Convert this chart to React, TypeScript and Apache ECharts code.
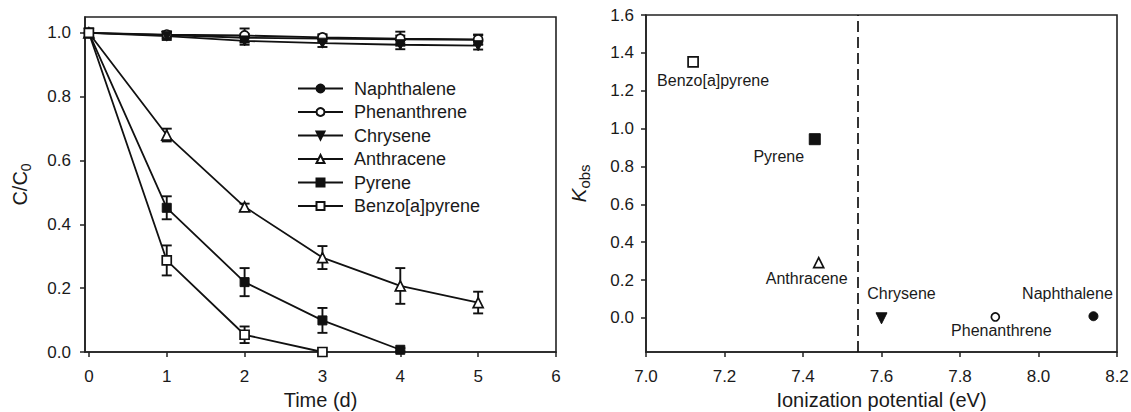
import React, { useEffect, useRef } from "react";
import * as echarts from "echarts";

// ---------- Left panel data ----------
const timeDays = [0, 1, 2, 3, 4, 5];
const naphthalene = [1.0, 0.993, 0.985, 0.982, 0.98, 0.978];
const naphthaleneErr = [0, 0.01, 0.012, 0.01, 0.012, 0.015];
const phenanthrene = [1.0, 0.995, 0.992, 0.986, 0.982, 0.98];
const phenanthreneErr = [0, 0.01, 0.022, 0.01, 0.022, 0.015];
const chrysene = [1.0, 0.99, 0.975, 0.968, 0.963, 0.96];
const chryseneErr = [0, 0.012, 0.012, 0.012, 0.014, 0.012];
const anthracene = [1.0, 0.68, 0.455, 0.296, 0.207, 0.155];
const anthraceneErr = [0, 0.02, 0.01, 0.036, 0.056, 0.034];
const pyrene = [1.0, 0.452, 0.219, 0.099, 0.007];
const pyreneErr = [0, 0.036, 0.044, 0.039, 0.005];
const benzoPyrene = [1.0, 0.287, 0.054, 0.0];
const benzoPyreneErr = [0, 0.047, 0.026, 0];

const leftXTicks = [0, 1, 2, 3, 4, 5, 6];
const leftYTicks = [0, 0.2, 0.4, 0.6, 0.8, 1.0];

// ---------- Right panel data ----------
const compounds = ["Benzo[a]pyrene", "Pyrene", "Anthracene", "Chrysene", "Phenanthrene", "Naphthalene"];
const ionizationPotential = [7.12, 7.43, 7.44, 7.6, 7.89, 8.14];
const kObs = [1.352, 0.944, 0.292, -0.002, 0.005, 0.009];
const dividerIP = 7.54;
const rightXTicks = [7.0, 7.2, 7.4, 7.6, 7.8, 8.0, 8.2];
const rightYTicks = [0, 0.2, 0.4, 0.6, 0.8, 1.0, 1.2, 1.4, 1.6];

// ---------- styles ----------
const FONT = "'Liberation Sans', Arial, Helvetica, sans-serif";
const TXT = "#1a1a1a";
const INV_TRI = "path://M0,0 L10,0 L5,8.66 Z";

type Marker = { symbol: string; size: number; filled: boolean };
const markers: Record<string, Marker> = {
  Naphthalene: { symbol: "circle", size: 9, filled: true },
  Phenanthrene: { symbol: "circle", size: 9, filled: false },
  Chrysene: { symbol: INV_TRI, size: 10, filled: true },
  Anthracene: { symbol: "triangle", size: 10, filled: false },
  Pyrene: { symbol: "rect", size: 9, filled: true },
  "Benzo[a]pyrene": { symbol: "rect", size: 9, filled: false },
};
const rightSizes: Record<string, number> = {
  Naphthalene: 9,
  Phenanthrene: 8,
  Chrysene: 11,
  Anthracene: 10,
  Pyrene: 11,
  "Benzo[a]pyrene": 10,
};
const labelOffsets: Record<string, [number, number]> = {
  "Benzo[a]pyrene": [20, 19],
  Pyrene: [-36, 17],
  Anthracene: [-12, 16],
  Chrysene: [20, -25],
  Phenanthrene: [6, 14],
  Naphthalene: [-26, -23],
};

const leftSeriesDefs: [string, number[], number[]][] = [
  ["Naphthalene", naphthalene, naphthaleneErr],
  ["Phenanthrene", phenanthrene, phenanthreneErr],
  ["Chrysene", chrysene, chryseneErr],
  ["Anthracene", anthracene, anthraceneErr],
  ["Pyrene", pyrene, pyreneErr],
  ["Benzo[a]pyrene", benzoPyrene, benzoPyreneErr],
];

function markerStyle(m: Marker) {
  return m.filled
    ? { color: "#111", borderColor: "#111", borderWidth: 1, opacity: 1 }
    : { color: "#fff", borderColor: "#111", borderWidth: 1.7, opacity: 1 };
}

export default function App() {
  const ref = useRef<HTMLDivElement>(null);

  useEffect(() => {
    if (!ref.current) return;
    const chart = echarts.init(ref.current, null, { renderer: "svg" });

    const axisCommon = {
      axisLine: { show: true, onZero: false, lineStyle: { color: "#222", width: 1.6 } },
      axisTick: { show: true, inside: false, length: 5, lineStyle: { color: "#222", width: 1.5 } },
      splitLine: { show: false },
      axisLabel: { color: TXT, fontSize: 17, fontFamily: FONT },
      nameTextStyle: { color: TXT, fontSize: 20, fontFamily: FONT },
    };

    const errorData: number[][] = [];
    leftSeriesDefs.forEach(([, vals, errs]) => {
      vals.forEach((v, i) => {
        if (errs[i] > 0) errorData.push([timeDays[i], v, errs[i]]);
      });
    });

    const lineSeries = leftSeriesDefs.map(([name, vals]) => {
      const m = markers[name];
      return {
        name,
        type: "line",
        xAxisIndex: 0,
        yAxisIndex: 0,
        data: vals.map((v, i) => [timeDays[i], v]),
        symbol: m.symbol,
        symbolSize: m.size,
        showAllSymbol: true,
        lineStyle: { color: "#111", width: 1.8 },
        itemStyle: markerStyle(m),
        z: 3,
      };
    });

    const errorSeries = {
      type: "custom",
      xAxisIndex: 0,
      yAxisIndex: 0,
      z: 2,
      data: errorData,
      renderItem: (params: any, api: any) => {
        const x = api.value(0);
        const y = api.value(1);
        const e = api.value(2);
        const top = api.coord([x, y + e]);
        const bot = api.coord([x, y - e]);
        const cap = 5;
        const style = { stroke: "#111", lineWidth: 1.9 };
        return {
          type: "group",
          children: [
            { type: "line", shape: { x1: top[0], y1: top[1], x2: bot[0], y2: bot[1] }, style },
            { type: "line", shape: { x1: top[0] - cap, y1: top[1], x2: top[0] + cap, y2: top[1] }, style },
            { type: "line", shape: { x1: bot[0] - cap, y1: bot[1], x2: bot[0] + cap, y2: bot[1] }, style },
          ],
        };
      },
    };

    const scatterData = compounds.map((name, i) => {
      const m = markers[name];
      return {
        value: [ionizationPotential[i], kObs[i]],
        name,
        symbol: m.symbol,
        symbolSize: rightSizes[name],
        itemStyle: markerStyle(m),
        label: {
          show: true,
          position: "inside",
          offset: labelOffsets[name],
          formatter: name,
          color: TXT,
          fontSize: 16,
          fontFamily: FONT,
        },
      };
    });

    const option: any = {
      animation: false,
      backgroundColor: "#fff",
      textStyle: { fontFamily: FONT },
      grid: [
        { left: 85, right: 575, top: 17, bottom: 60, show: true, borderColor: "#222", borderWidth: 1.6, outerBoundsMode: "none" },
        { left: 646, right: 14, top: 15, bottom: 60, show: true, borderColor: "#222", borderWidth: 1.6, outerBoundsMode: "none" },
      ],
      legend: {
        data: leftSeriesDefs.map((d) => d[0]),
        orient: "vertical",
        left: 297,
        top: 79,
        padding: 0,
        itemWidth: 45,
        itemHeight: 10,
        itemGap: 4.5,
        selectedMode: false,
        textStyle: { color: TXT, fontSize: 18, lineHeight: 19, fontFamily: FONT, padding: [0, 0, 0, 6] },
      },
      xAxis: [
        {
          ...axisCommon,
          type: "value",
          gridIndex: 0,
          min: -0.05,
          max: 6,
          axisTick: { ...axisCommon.axisTick, customValues: leftXTicks },
          axisLabel: { ...axisCommon.axisLabel, margin: 16, customValues: leftXTicks },
          name: "Time (d)",
          nameLocation: "middle",
          nameGap: 38,
        },
        {
          ...axisCommon,
          type: "value",
          gridIndex: 1,
          min: 7.0,
          max: 8.2,
          axisTick: { ...axisCommon.axisTick, customValues: rightXTicks },
          axisLabel: {
            ...axisCommon.axisLabel,
            margin: 16,
            customValues: rightXTicks,
            formatter: (v: number) => v.toFixed(1),
          },
          name: "Ionization potential (eV)",
          nameLocation: "middle",
          nameGap: 38,
        },
      ],
      yAxis: [
        {
          ...axisCommon,
          type: "value",
          gridIndex: 0,
          min: 0,
          max: 1.05,
          axisTick: { ...axisCommon.axisTick, customValues: leftYTicks },
          axisLabel: {
            ...axisCommon.axisLabel,
            margin: 14,
            customValues: leftYTicks,
            formatter: (v: number) => v.toFixed(1),
          },
          name: "{a|C/C}{b|0}",
          nameLocation: "middle",
          nameGap: 52,
          nameTextStyle: {
            rich: {
              a: { fontSize: 20, fontFamily: FONT, color: TXT, lineHeight: 26 },
              b: { fontSize: 14, fontFamily: FONT, color: TXT, lineHeight: 16, verticalAlign: "bottom" },
            },
          },
        },
        {
          ...axisCommon,
          type: "value",
          gridIndex: 1,
          min: -0.18,
          max: 1.6,
          axisTick: { ...axisCommon.axisTick, customValues: rightYTicks },
          axisLabel: {
            ...axisCommon.axisLabel,
            margin: 12,
            customValues: rightYTicks,
            formatter: (v: number) => v.toFixed(1),
          },
          name: "{a|K}{b|obs}",
          nameLocation: "middle",
          nameGap: 54,
          nameTextStyle: {
            rich: {
              a: { fontSize: 21, fontFamily: FONT, fontStyle: "italic", color: TXT, lineHeight: 28 },
              b: { fontSize: 15, fontFamily: FONT, color: TXT, lineHeight: 16, verticalAlign: "bottom" },
            },
          },
        },
      ],
      series: [
        errorSeries,
        ...lineSeries,
        {
          type: "scatter",
          name: "kobs",
          xAxisIndex: 1,
          yAxisIndex: 1,
          data: scatterData,
          z: 3,
          markLine: {
            silent: true,
            symbol: "none",
            label: { show: false },
            lineStyle: { color: "#111", width: 1.7, type: [11, 5] },
            data: [{ xAxis: dividerIP }],
          },
        },
      ],
    };

    chart.setOption(option);
    return () => chart.dispose();
  }, []);

  return (
    <div
      ref={ref}
      style={{ position: "absolute", left: 0, top: 0, width: 1131, height: 412 }}
    />
  );
}
